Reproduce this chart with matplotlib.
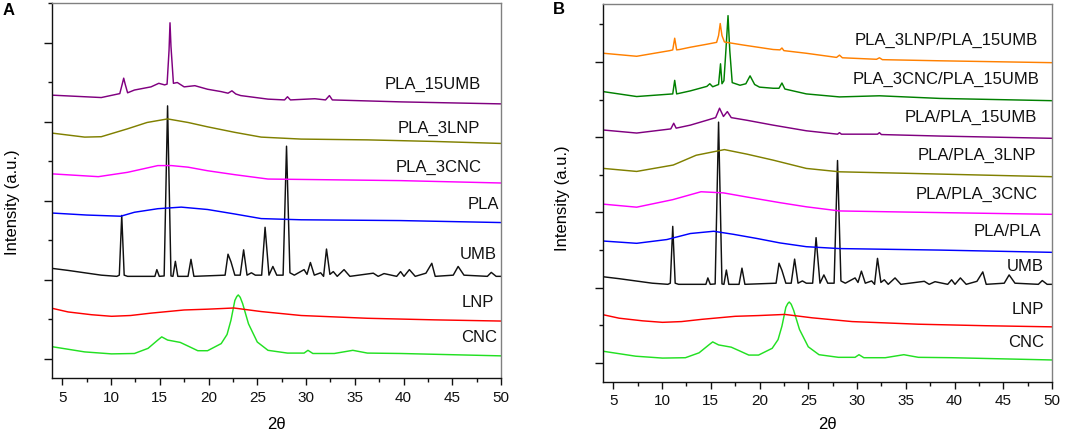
import matplotlib
matplotlib.use("Agg")
import matplotlib.pyplot as plt
from matplotlib.ticker import FixedLocator

plt.rcParams['font.family'] = ['Liberation Sans', 'DejaVu Sans']

# ---------------- shared samples (same in both panels) ----------------
umb_x = [4.0, 5.6, 9.0, 10.6, 10.85, 11.1, 11.35, 11.7, 14.5, 14.7, 14.95, 15.45, 15.8, 16.15,
         16.35, 16.6, 16.85, 17.9, 18.2, 18.5, 21.7, 22.0, 22.3, 22.7, 23.25, 23.6, 23.95, 24.4,
         24.8, 25.45, 25.8, 26.2, 26.6, 27.0, 27.65, 28.0, 28.35, 28.8, 29.8, 30.1, 30.45, 30.85,
         31.5, 31.8, 32.1, 32.45, 32.8, 33.2, 33.9, 34.5, 36.9, 37.4, 38.0, 39.3, 39.7, 40.05,
         40.6, 41.2, 42.3, 42.9, 43.25, 45.1, 45.6, 46.2, 48.6, 49.0, 49.5, 50.0]
umb_y = [2.29, 2.24, 2.12, 2.09, 2.12, 3.63, 2.12, 2.09, 2.09, 2.26, 2.09, 2.10, 6.40, 2.10,
         2.09, 2.47, 2.09, 2.09, 2.52, 2.09, 2.12, 2.65, 2.46, 2.12, 2.12, 2.76, 2.12, 2.18,
         2.12, 2.12, 3.33, 2.12, 2.34, 2.12, 2.12, 5.38, 2.18, 2.12, 2.26, 2.14, 2.44, 2.12,
         2.18, 2.09, 2.78, 2.14, 2.21, 2.09, 2.26, 2.09, 2.17, 2.09, 2.16, 2.09, 2.21, 2.09,
         2.26, 2.09, 2.17, 2.42, 2.09, 2.12, 2.34, 2.12, 2.09, 2.19, 2.09, 2.09]

lnp_x = [4.0, 5.6, 8.0, 10.05, 12.0, 14.1, 17.5, 19.9, 22.6, 25.4, 29.5, 36.3, 43.2, 50.0]
lnp_y = [1.28, 1.19, 1.12, 1.08, 1.10, 1.16, 1.24, 1.26, 1.29, 1.20, 1.10, 1.03, 0.99, 0.96]

cnc_x = [4.0, 7.3, 10.05, 12.4, 13.8, 14.8, 15.2, 15.8, 17.1, 18.05, 18.9, 19.9, 21.3, 21.9,
         22.3, 22.7, 22.9, 23.05, 23.25, 23.5, 24.1, 25.0, 26.1, 28.1, 29.8, 30.2, 30.7, 32.9,
         34.8, 36.3, 39.7, 50.0]
cnc_y = [0.31, 0.18, 0.13, 0.14, 0.27, 0.48, 0.56, 0.48, 0.42, 0.31, 0.21, 0.21, 0.39, 0.62,
         0.98, 1.48, 1.58, 1.62, 1.56, 1.40, 0.89, 0.43, 0.22, 0.15, 0.15, 0.22, 0.14, 0.14,
         0.22, 0.15, 0.14, 0.08]

# ---------------- panel A samples ----------------
pla_a_x = [4.0, 7.5, 11.0, 12.4, 14.8, 17.2, 19.9, 22.6, 25.4, 29.5, 39.7, 50.0]
pla_a_y = [3.69, 3.64, 3.61, 3.71, 3.80, 3.84, 3.78, 3.67, 3.55, 3.52, 3.50, 3.45]

pla3cnc_a_x = [4.0, 8.7, 11.7, 14.8, 16.2, 17.9, 19.9, 22.7, 26.1, 32.9, 39.7, 50.0]
pla3cnc_a_y = [4.68, 4.61, 4.72, 4.89, 4.89, 4.85, 4.76, 4.66, 4.55, 4.53, 4.51, 4.45]

pla3lnp_a_x = [4.0, 7.3, 9.0, 11.7, 13.7, 15.8, 17.9, 19.9, 22.7, 25.4, 29.5, 36.3, 43.2, 50.0]
pla3lnp_a_y = [5.71, 5.61, 5.62, 5.82, 5.98, 6.07, 5.98, 5.87, 5.73, 5.61, 5.56, 5.54, 5.50, 5.45]

pla15umb_a_x = [4.0, 9.0, 10.9, 11.15, 11.3, 11.45, 11.7, 12.4, 14.1, 14.9, 15.5, 15.75, 15.95,
                16.05, 16.15, 16.4, 16.8, 17.5, 18.6, 19.9, 21.3, 22.0, 22.4, 22.8, 23.3, 26.1,
                27.8, 28.1, 28.4, 30.9, 32.0, 32.4, 32.7, 39.8, 50.0]
pla15umb_a_y = [6.67, 6.61, 6.71, 6.95, 7.10, 6.95, 6.73, 6.80, 6.88, 6.97, 6.93, 6.95, 7.80,
                8.50, 7.90, 6.97, 6.99, 6.88, 6.91, 6.82, 6.76, 6.72, 6.78, 6.70, 6.66, 6.57,
                6.55, 6.63, 6.55, 6.58, 6.55, 6.66, 6.55, 6.50, 6.45]

# ---------------- panel B samples ----------------
plapla_b_x = [4.0, 7.4, 10.5, 12.9, 15.3, 17.3, 19.7, 22.1, 24.8, 28.2, 38.5, 50.0]
plapla_b_y = [3.24, 3.18, 3.28, 3.44, 3.50, 3.42, 3.31, 3.19, 3.09, 3.04, 3.00, 2.94]

pla3cnc_b_x = [4.0, 7.4, 11.1, 14.0, 16.3, 18.7, 22.1, 24.8, 28.2, 35.1, 50.0]
pla3cnc_b_y = [4.22, 4.14, 4.34, 4.55, 4.52, 4.41, 4.26, 4.15, 4.04, 4.01, 3.95]

pla3lnp_b_x = [4.0, 7.4, 11.15, 13.5, 16.4, 18.7, 21.4, 24.8, 28.2, 35.1, 50.0]
pla3lnp_b_y = [5.17, 5.09, 5.26, 5.52, 5.67, 5.55, 5.39, 5.17, 5.08, 5.04, 4.95]

pla15umb_b_x = [4.0, 7.4, 10.9, 11.2, 11.45, 12.9, 14.6, 15.5, 15.9, 16.3, 16.7, 17.1, 18.7,
                21.4, 24.8, 28.0, 28.2, 28.4, 32.1, 32.3, 32.5, 38.5, 50.0]
pla15umb_b_y = [6.19, 6.11, 6.22, 6.37, 6.24, 6.32, 6.45, 6.52, 6.77, 6.55, 6.68, 6.52, 6.45,
                6.32, 6.17, 6.08, 6.12, 6.08, 6.08, 6.12, 6.07, 6.03, 5.97]

cncumb_b_x = [4.0, 7.4, 11.1, 11.3, 11.5, 12.9, 14.6, 14.9, 15.2, 15.8, 16.0, 16.15, 16.35,
              16.55, 16.77, 16.95, 17.2, 18.0, 18.6, 19.03, 19.5, 20.0, 21.4, 22.0, 22.3, 22.6,
              24.8, 28.2, 32.3, 38.5, 50.0]
cncumb_b_y = [7.21, 7.08, 7.15, 7.51, 7.15, 7.23, 7.35, 7.42, 7.34, 7.40, 7.95, 7.42, 7.50,
              8.30, 9.23, 8.30, 7.45, 7.38, 7.42, 7.63, 7.40, 7.33, 7.30, 7.30, 7.44, 7.28,
              7.15, 7.07, 7.10, 7.03, 6.97]

lnpumb_b_x = [4.0, 7.4, 10.8, 11.1, 11.3, 11.5, 11.8, 12.9, 14.6, 15.6, 15.8, 15.97, 16.15,
              16.4, 17.1, 18.3, 21.4, 22.1, 22.3, 22.5, 24.8, 27.9, 28.2, 28.5, 32.0, 32.3,
              32.6, 38.5, 50.0]
lnpumb_b_y = [8.23, 8.15, 8.30, 8.32, 8.63, 8.32, 8.33, 8.39, 8.47, 8.52, 8.70, 9.02, 8.70,
              8.53, 8.50, 8.45, 8.33, 8.32, 8.37, 8.30, 8.23, 8.12, 8.18, 8.11, 8.07, 8.11,
              8.06, 8.03, 7.98]

labels_a = ['CNC', 'LNP', 'UMB', 'PLA', 'PLA_3CNC', 'PLA_3LNP', 'PLA_15UMB']
labels_b = ['CNC', 'LNP', 'UMB', 'PLA/PLA', 'PLA/PLA_3CNC', 'PLA/PLA_3LNP',
            'PLA/PLA_15UMB', 'PLA_3CNC/PLA_15UMB', 'PLA_3LNP/PLA_15UMB']

C_CNC = '#22e022'
C_LNP = '#ff0000'
C_UMB = '#111111'
C_PLA = '#0000ff'
C_CNCP = '#ff00ff'
C_LNPP = '#808000'
C_UMBP = '#800080'
C_GRN = '#008000'
C_ORG = '#ff8000'

fig = plt.figure(figsize=(10.84, 4.36), dpi=100)
axA = fig.add_axes([0.0480, 0.1330, 0.4142, 0.8601])
axB = fig.add_axes([0.5563, 0.1239, 0.4142, 0.8670])

LW = 1.05
seriesA = [
    (cnc_x, cnc_y, C_CNC), (lnp_x, lnp_y, C_LNP), (umb_x, umb_y, C_UMB),
    (pla_a_x, pla_a_y, C_PLA), (pla3cnc_a_x, pla3cnc_a_y, C_CNCP),
    (pla3lnp_a_x, pla3lnp_a_y, C_LNPP), (pla15umb_a_x, pla15umb_a_y, C_UMBP),
]
seriesB = [
    (cnc_x, cnc_y, C_CNC), (lnp_x, lnp_y, C_LNP), (umb_x, umb_y, C_UMB),
    (plapla_b_x, plapla_b_y, C_PLA), (pla3cnc_b_x, pla3cnc_b_y, C_CNCP),
    (pla3lnp_b_x, pla3lnp_b_y, C_LNPP), (pla15umb_b_x, pla15umb_b_y, C_UMBP),
    (cncumb_b_x, cncumb_b_y, C_GRN), (lnpumb_b_x, lnpumb_b_y, C_ORG),
]
for x, y, c in seriesA:
    axA.plot(x, y, color=c, lw=LW)
for x, y, c in seriesB:
    axB.plot(x, y, color=c, lw=LW)

posA = [(49.6, 0.55), (49.3, 1.44), (49.6, 2.64), (49.8, 3.90), (48.0, 4.84), (47.8, 5.84), (47.9, 6.95)]
posB = [(49.2, 0.55), (49.2, 1.43), (49.2, 2.56), (48.9, 3.49), (48.5, 4.49), (48.4, 5.51),
        (48.5, 6.53), (48.7, 7.53), (48.6, 8.57)]
for (px, py), t in zip(posA, labels_a):
    axA.text(px, py, t, ha='right', va='center', fontsize=12, color='#111111')
for (px, py), t in zip(posB, labels_b):
    axB.text(px, py, t, ha='right', va='center', fontsize=12, color='#111111')

for ax, ylim in ((axA, (-0.48, 9.0)), (axB, (-0.505, 9.54))):
    ax.set_xlim(3.95, 50)
    ax.set_ylim(*ylim)
    ax.xaxis.set_major_locator(FixedLocator([5, 10, 15, 20, 25, 30, 35, 40, 45, 50]))
    ax.xaxis.set_minor_locator(FixedLocator([7.5, 12.5, 17.5, 22.5, 27.5, 32.5, 37.5, 42.5, 47.5]))
    ax.yaxis.set_major_locator(FixedLocator([0, 2, 4, 6, 8]))
    ax.yaxis.set_minor_locator(FixedLocator([1, 3, 5, 7, 9]))
    ax.set_yticklabels([])
    ax.tick_params(axis='x', which='major', direction='out', length=5, width=1.0,
                   labelsize=11, pad=4, colors='#111111')
    ax.tick_params(axis='x', which='minor', direction='out', length=3, width=1.0, colors='#111111')
    ax.tick_params(axis='y', which='major', direction='out', length=6, width=1.0, colors='#111111')
    ax.tick_params(axis='y', which='minor', direction='out', length=3, width=1.0, colors='#111111')
    ax.spines['left'].set_color('#111111')
    ax.spines['bottom'].set_color('#111111')
    ax.spines['top'].set_color('#808080')
    ax.spines['right'].set_color('#808080')
    for s in ax.spines.values():
        s.set_linewidth(1.0)

fig.text(276.5 / 1084, 1 - 424 / 436, '2θ', ha='center', va='center', fontsize=12)
fig.text(827.5 / 1084, 1 - 424 / 436, '2θ', ha='center', va='center', fontsize=12)
fig.text(13 / 1084, 1 - 202 / 436, 'Intensity (a.u.)', rotation=90, ha='center', va='center', fontsize=12)
fig.text(563 / 1084, 1 - 198 / 436, 'Intensity (a.u.)', rotation=90, ha='center', va='center', fontsize=12)
fig.text(3 / 1084, 1 - 3 / 436, 'A', ha='left', va='top', fontsize=12, fontweight='bold')
fig.text(553 / 1084, 1 - 2 / 436, 'B', ha='left', va='top', fontsize=12, fontweight='bold')

fig.savefig('out.png', dpi=100)
